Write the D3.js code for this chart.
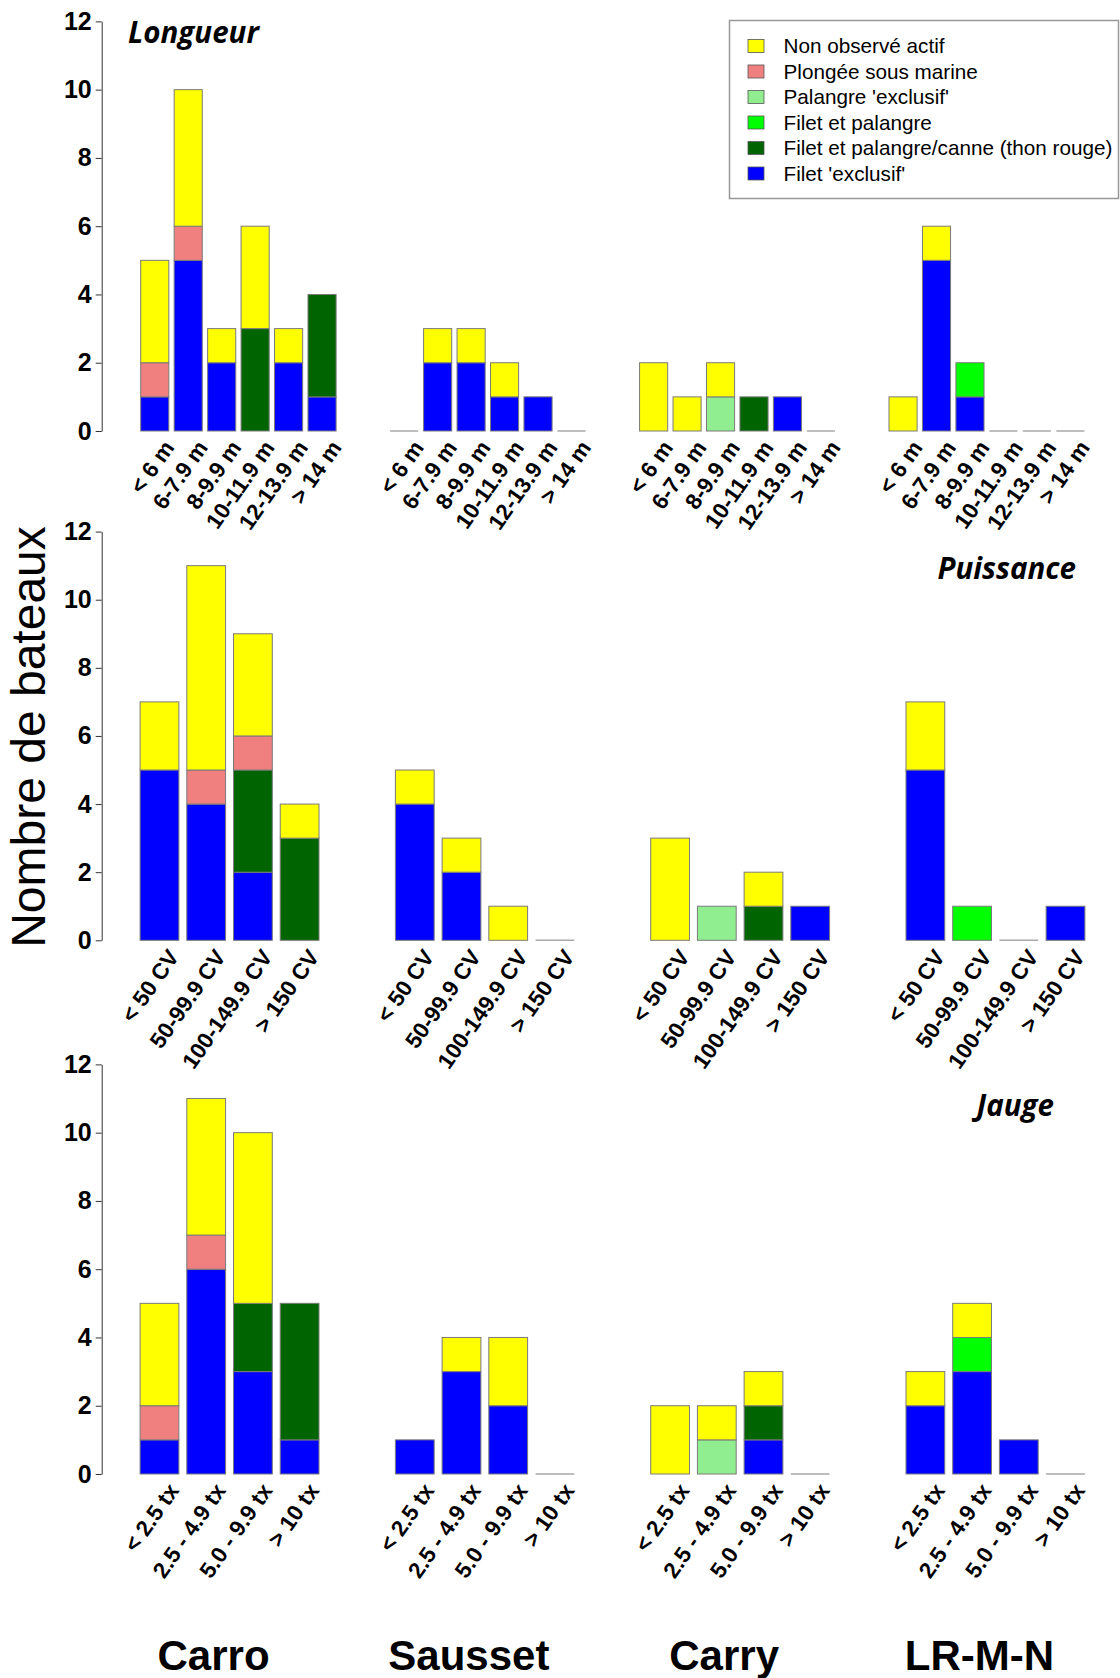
<!DOCTYPE html>
<html>
<head>
<meta charset="utf-8">
<script src="https://cdn.jsdelivr.net/npm/d3@7"></script>
<style>
  body { margin: 0; background: #fff; }
  svg { display: block; }
</style>
</head>
<body>
<div id="chart"></div>
<script>
// sites (groups of bars) and fishing types
const sites = ['Carro', 'Sausset', 'Carry', 'LR-M-N']
const seriesNames = ["Non observé actif", "Plongée sous marine", "Palangre 'exclusif'",
  "Filet et palangre", "Filet et palangre/canne (thon rouge)", "Filet 'exclusif'"]
const seriesColors = ['#ffff00', '#f08080', '#90ee90', '#00ff00', '#006400', '#0000ff']

// Longueur - one row per site
const longueurCats = ['< 6 m', '6-7.9 m', '8-9.9 m', '10-11.9 m', '12-13.9 m', '> 14 m']
const longueurNonObs   = [[3, 4, 1, 3, 1, 0], [0, 1, 1, 1, 0, 0], [2, 1, 1, 0, 0, 0], [1, 1, 0, 0, 0, 0]]
const longueurPlongee  = [[1, 1, 0, 0, 0, 0], [0, 0, 0, 0, 0, 0], [0, 0, 0, 0, 0, 0], [0, 0, 0, 0, 0, 0]]
const longueurPalangre = [[0, 0, 0, 0, 0, 0], [0, 0, 0, 0, 0, 0], [0, 0, 1, 0, 0, 0], [0, 0, 0, 0, 0, 0]]
const longueurFiletPal = [[0, 0, 0, 0, 0, 0], [0, 0, 0, 0, 0, 0], [0, 0, 0, 0, 0, 0], [0, 0, 1, 0, 0, 0]]
const longueurThon     = [[0, 0, 0, 3, 0, 3], [0, 0, 0, 0, 0, 0], [0, 0, 0, 1, 0, 0], [0, 0, 0, 0, 0, 0]]
const longueurFilet    = [[1, 5, 2, 0, 2, 1], [0, 2, 2, 1, 1, 0], [0, 0, 0, 0, 1, 0], [0, 5, 1, 0, 0, 0]]

// Puissance
const puissanceCats = ['< 50 CV', '50-99.9 CV', '100-149.9 CV', '> 150 CV']
const puissanceNonObs   = [[2, 6, 3, 1], [1, 1, 1, 0], [3, 0, 1, 0], [2, 0, 0, 0]]
const puissancePlongee  = [[0, 1, 1, 0], [0, 0, 0, 0], [0, 0, 0, 0], [0, 0, 0, 0]]
const puissancePalangre = [[0, 0, 0, 0], [0, 0, 0, 0], [0, 1, 0, 0], [0, 0, 0, 0]]
const puissanceFiletPal = [[0, 0, 0, 0], [0, 0, 0, 0], [0, 0, 0, 0], [0, 1, 0, 0]]
const puissanceThon     = [[0, 0, 3, 3], [0, 0, 0, 0], [0, 0, 1, 0], [0, 0, 0, 0]]
const puissanceFilet    = [[5, 4, 2, 0], [4, 2, 0, 0], [0, 0, 0, 1], [5, 0, 0, 1]]

// Jauge
const jaugeCats = ['< 2.5 tx', '2.5 - 4.9 tx', '5.0 - 9.9 tx', '> 10 tx']
const jaugeNonObs   = [[3, 4, 5, 0], [0, 1, 2, 0], [2, 1, 1, 0], [1, 1, 0, 0]]
const jaugePlongee  = [[1, 1, 0, 0], [0, 0, 0, 0], [0, 0, 0, 0], [0, 0, 0, 0]]
const jaugePalangre = [[0, 0, 0, 0], [0, 0, 0, 0], [0, 1, 0, 0], [0, 0, 0, 0]]
const jaugeFiletPal = [[0, 0, 0, 0], [0, 0, 0, 0], [0, 0, 0, 0], [0, 1, 0, 0]]
const jaugeThon     = [[0, 0, 2, 4], [0, 0, 0, 0], [0, 0, 1, 0], [0, 0, 0, 0]]
const jaugeFilet    = [[1, 6, 3, 1], [1, 3, 2, 0], [0, 0, 1, 0], [2, 3, 1, 0]]

const yTicks = [0, 2, 4, 6, 8, 10, 12]

// panels
const panels = [
  { title: 'Longueur', cats: longueurCats, top: 21.4, bottom: 431, x0: 140.7, x1: 889, bandW: 195.4, pad: 0.16,
    series: [longueurNonObs, longueurPlongee, longueurPalangre, longueurFiletPal, longueurThon, longueurFilet],
    tx: 128, ty: 43, anchor: 'start' },
  { title: 'Puissance', cats: puissanceCats, top: 531.6, bottom: 940.3, x0: 140.1, x1: 906, bandW: 178.9, pad: 0.17,
    series: [puissanceNonObs, puissancePlongee, puissancePalangre, puissanceFiletPal, puissanceThon, puissanceFilet],
    tx: 1076, ty: 579, anchor: 'end' },
  { title: 'Jauge', cats: jaugeCats, top: 1064.4, bottom: 1474, x0: 140.1, x1: 906, bandW: 178.9, pad: 0.17,
    series: [jaugeNonObs, jaugePlongee, jaugePalangre, jaugeFiletPal, jaugeThon, jaugeFilet],
    tx: 1054, ty: 1116, anchor: 'end' }
]

const width = 1120, height = 1678

const svg = d3.select('#chart').append('svg')
  .attr('width', width)
  .attr('height', height)
  .style('font-family', "'Liberation Sans', Arial, sans-serif")

// stack keys, bottom to top (reverse of the legend)
const keys = d3.range(seriesNames.length).reverse()
const stack = d3.stack().keys(keys)

let lastGroupCenters = []

panels.forEach(function (p) {
  const g = svg.append('g')

  const y = d3.scaleLinear().domain([0, 12]).range([p.bottom, p.top])
  const groupX = d3.scaleLinear().domain([0, sites.length - 1]).range([p.x0, p.x1])
  const barX = d3.scaleBand().domain(p.cats).range([0, p.bandW]).paddingInner(p.pad).paddingOuter(0)

  // one row per site x category
  const rows = []
  sites.forEach((site, si) => {
    p.cats.forEach((cat, ci) => {
      const row = { site: si, cat: cat }
      keys.forEach(k => { row[k] = p.series[k][si][ci] })
      rows.push(row)
    })
  })
  const layers = stack(rows)

  // stacked segments
  layers.forEach(layer => {
    g.append('g')
      .selectAll('rect')
      .data(layer.filter(d => d[1] > d[0]))
      .join('rect')
      .attr('x', d => groupX(d.data.site) + barX(d.data.cat))
      .attr('width', barX.bandwidth())
      .attr('y', d => y(d[1]))
      .attr('height', d => y(d[0]) - y(d[1]))
      .attr('fill', seriesColors[layer.key])
      .attr('stroke', '#7a7a7a')
      .attr('stroke-width', 1)
  })

  // empty bars show as a grey line
  g.append('g')
    .selectAll('line')
    .data(rows.filter(r => d3.sum(keys, k => r[k]) === 0))
    .join('line')
    .attr('x1', d => groupX(d.site) + barX(d.cat))
    .attr('x2', d => groupX(d.site) + barX(d.cat) + barX.bandwidth())
    .attr('y1', y(0))
    .attr('y2', y(0))
    .attr('stroke', '#a8a8a8')
    .attr('stroke-width', 1.5)

  // rotated category labels
  g.append('g')
    .selectAll('text')
    .data(rows)
    .join('text')
    .attr('transform', d => {
      const cx = groupX(d.site) + barX(d.cat) + barX.bandwidth() / 2 + 14
      return 'translate(' + cx + ',' + (p.bottom + 12) + ') rotate(-55)'
    })
    .attr('text-anchor', 'end')
    .attr('dy', '0.35em')
    .attr('font-size', 22.5)
    .attr('font-weight', 'bold')
    .text(d => d.cat)

  // y axis
  const yAxis = d3.axisLeft(y).tickValues(yTicks).tickSize(6).tickSizeOuter(0).tickPadding(4)
  const ax = g.append('g')
    .attr('transform', 'translate(101.7,0)')
    .call(yAxis)
  ax.select('.domain').attr('stroke', '#333')
  ax.selectAll('.tick line').attr('stroke', '#333')
  ax.selectAll('.tick text')
    .attr('font-size', 25)
    .attr('font-weight', 'bold')
    .attr('fill', '#000')
    .style('font-family', "'Liberation Sans', Arial, sans-serif")

  // panel title
  g.append('text')
    .attr('x', p.tx)
    .attr('y', p.ty)
    .attr('text-anchor', p.anchor)
    .attr('font-size', 29.5)
    .attr('font-weight', 'bold')
    .attr('font-style', 'italic')
    .style('font-family', "'Open Sans', 'Noto Sans', sans-serif")
    .text(p.title)

  lastGroupCenters = sites.map((s, i) => groupX(i) + p.bandW / 2)
})

// site names under the last panel
svg.append('g')
  .selectAll('text')
  .data(sites)
  .join('text')
  .attr('x', (d, i) => lastGroupCenters[i] - 16)
  .attr('y', 1670)
  .attr('text-anchor', 'middle')
  .attr('font-size', 42)
  .attr('font-weight', 'bold')
  .text(d => d)

// y axis title
svg.append('text')
  .attr('transform', 'translate(45,737) rotate(-90)')
  .attr('text-anchor', 'middle')
  .attr('font-size', 48)
  .text('Nombre de bateaux')

// legend
const legend = svg.append('g').attr('transform', 'translate(729.5,20.5)')
legend.append('rect')
  .attr('width', 389)
  .attr('height', 178)
  .attr('fill', '#fff')
  .attr('stroke', '#999')
  .attr('stroke-width', 1.5)

legend.selectAll('rect.key')
  .data(seriesNames)
  .join('rect')
  .attr('class', 'key')
  .attr('x', 18.5)
  .attr('y', (d, i) => 19 + i * 25.5)
  .attr('width', 16)
  .attr('height', 13)
  .attr('fill', (d, i) => seriesColors[i])
  .attr('stroke', '#555')
  .attr('stroke-width', 0.8)

legend.selectAll('text')
  .data(seriesNames)
  .join('text')
  .attr('x', 54)
  .attr('y', (d, i) => 32.5 + i * 25.5)
  .attr('font-size', 20.7)
  .text(d => d)
</script>
</body>
</html>
